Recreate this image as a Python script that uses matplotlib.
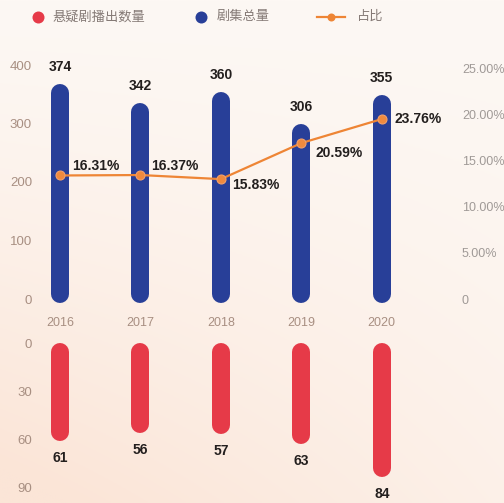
import numpy as np
import matplotlib
matplotlib.use('Agg')
from matplotlib import pyplot as plt

years = ['2016', '2017', '2018', '2019', '2020']
total_dramas = [374, 342, 360, 306, 355]
suspense_dramas = [61, 56, 57, 63, 84]
share_pct = [16.31, 16.37, 15.83, 20.59, 23.76]

left_ticks = [0, 100, 200, 300, 400]
pct_ticks = [0, 5, 10, 15, 20, 25]
bottom_ticks = [0, 30, 60, 90]

# label offsets (px) for the percentage labels
pct_offsets = [(12, 9), (11, 9), (11, -6), (14, -10), (13, 0)]

BLUE = '#283f98'
RED = '#e63a48'
ORANGE = '#ee8535'
TICK_C = '#a88f82'
RTICK_C = '#a09a97'
LEG_C = '#857a76'
TXT_C = '#231f1e'

plt.rcParams['font.family'] = ['Liberation Sans', 'Noto Sans CJK SC', 'DejaVu Sans']

W, H = 504, 503
fig = plt.figure(figsize=(W / 100, H / 100), dpi=100)


def px_box(x0, y0, x1, y1):
    # pixel box (top-left origin) -> figure fraction rect
    return [x0 / W, 1 - y1 / H, (x1 - x0) / W, (y1 - y0) / H]


def pt(px):
    return px * 72 / 100


# background gradient + legend
bg = fig.add_axes([0, 0, 1, 1], zorder=-5)
yy, xx = np.mgrid[0:1:200j, 0:1:200j]
w = np.clip(yy ** 1.3 * (1.1 - 0.7 * xx), 0, 1)
c_top = np.array([253, 248, 244]) / 255
c_peach = np.array([251, 229, 215]) / 255
bg.imshow(c_top + w[..., None] * (c_peach - c_top), extent=[0, W, H, 0], aspect='auto')
bg.set_xlim(0, W)
bg.set_ylim(H, 0)
bg.axis('off')

ly = 17
bg.plot([38], [ly], 'o', ms=pt(12), color=RED, mec='none')
bg.text(53, ly, '悬疑剧播出数量', va='center', fontsize=9.5, color=LEG_C)
bg.plot([201], [ly], 'o', ms=pt(12), color=BLUE, mec='none')
bg.text(217, ly, '剧集总量', va='center', fontsize=9.5, color=LEG_C)
bg.plot([317, 345], [ly, ly], color=ORANGE, lw=1.6)
bg.plot([331], [ly], 'o', ms=pt(8), color=ORANGE, mec='none')
bg.text(357, ly, '占比', va='center', fontsize=9.5, color=LEG_C)

x = np.arange(len(years))
xlim = (-0.248, 4.91)

# top panel: total dramas
ax = fig.add_axes(px_box(40, 65, 455, 299))
ax.set_xlim(*xlim)
ax.set_ylim(0, 400)
upp = 400 / 234
for xi, v in zip(x, total_dramas):
    ax.plot([xi, xi], [5 * upp, v - 13 * upp], color=BLUE, lw=pt(18),
            solid_capstyle='round', clip_on=False)
    ax.annotate(str(v), (xi, v), xytext=(0, pt(13)), textcoords='offset points',
                ha='center', va='center', fontsize=10, fontweight='bold', color=TXT_C)
ax.set_yticks(left_ticks)
ax.set_xticks(x, years)
ax.tick_params(axis='y', length=0, pad=pt(8), labelsize=9.5, labelcolor=TICK_C)
ax.tick_params(axis='x', length=0, pad=pt(18), labelsize=9, labelcolor=TICK_C)
ax.patch.set_alpha(0)
for s in ax.spines.values():
    s.set_visible(False)

# right axis labels
axp = ax.twinx()
axp.set_ylim(0, 25 * 234 / 231)
axp.set_yticks(pct_ticks, ['0' if t == 0 else f'{t:.2f}%' for t in pct_ticks])
axp.tick_params(axis='y', length=0, pad=pt(7), labelsize=9, labelcolor=RTICK_C)
for s in axp.spines.values():
    s.set_visible(False)

# share line
axl = ax.twinx()
axl.set_ylim(0, 30.9)
axl.plot(x, share_pct, color=ORANGE, lw=1.6, marker='o', ms=pt(9),
         mfc='#f08a3e', mec='#f3a06a', mew=0.8)
for xi, p, (dx, dy) in zip(x, share_pct, pct_offsets):
    axl.annotate(f'{p:.2f}%', (xi, p), xytext=(pt(dx), pt(dy)), textcoords='offset points',
                 ha='left', va='center', fontsize=10, fontweight='bold', color=TXT_C)
axl.set_yticks([])
for s in axl.spines.values():
    s.set_visible(False)

# bottom panel: suspense dramas (downward)
axb = fig.add_axes(px_box(40, 343, 455, 503))
axb.set_xlim(*xlim)
axb.set_ylim(100, 0)
upp_b = 100 / 160
for xi, v in zip(x, suspense_dramas):
    axb.plot([xi, xi], [9 * upp_b, v - 9 * upp_b], color=RED, lw=pt(18),
             solid_capstyle='round', clip_on=False)
    axb.annotate(str(v), (xi, v), xytext=(0, -pt(17)), textcoords='offset points',
                 ha='center', va='center', fontsize=10, fontweight='bold', color=TXT_C)
axb.set_yticks(bottom_ticks)
axb.set_xticks([])
axb.tick_params(axis='y', length=0, pad=pt(8), labelsize=9.5, labelcolor=TICK_C)
axb.patch.set_alpha(0)
for s in axb.spines.values():
    s.set_visible(False)

fig.savefig('out.png', dpi=100)
